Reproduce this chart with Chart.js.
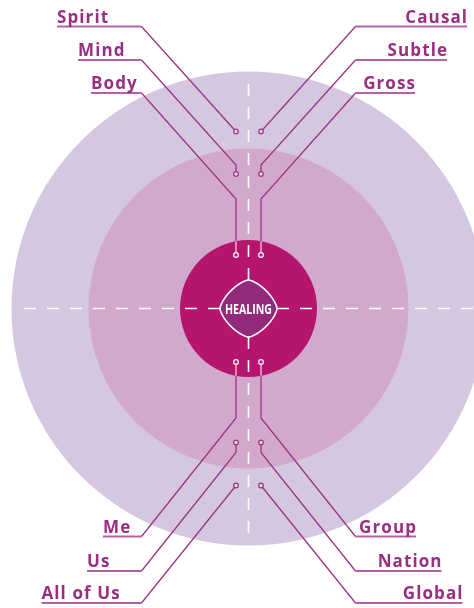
<!DOCTYPE html>
<html>
<head>
<meta charset="utf-8">
<title>Healing</title>
<script src="https://cdn.jsdelivr.net/npm/chart.js@4.4.0/dist/chart.umd.min.js"></script>
<style>
  html, body { margin: 0; padding: 0; background: #fff; }
  #chartBox { width: 474px; height: 608px; }
</style>
</head>
<body>
<div id="chartBox"><canvas id="healingChart" width="474" height="608"></canvas></div>
<script>
// Labels of the four corners
const topLeftNames = ['Spirit', 'Mind', 'Body'];
const topRightNames = ['Causal', 'Subtle', 'Gross'];
const bottomLeftNames = ['Me', 'Us', 'All of Us'];
const bottomRightNames = ['Group', 'Nation', 'Global'];
const centerText = 'HEALING';

// Rings (centre + radius, in axis units)
const ringCenter = [248.5, 308.5];
const ringRadii = [237, 160, 68.5];

// Rule lines under each label
const topRuleY = [26.5, 60, 93];
const bottomRuleY = [536.5, 571, 603];
const topLeftRuleStart = [57, 78, 91];
const topRightRuleEnd = [467, 447, 415];
const bottomLeftRuleStart = [103, 87, 41.5];
const bottomRightRuleEnd = [416, 441.5, 462.5];

// Where each leader bends and where its dot sits
const topBendY = [131.5, 165, 199];
const topDotY = [131.5, 174, 255];
const bottomBendY = [418, 452.5, 485.5];
const bottomDotY = [362, 442.5, 485.5];

// x of the knees and of the vertical stems
const kneeX = [141.5, 355.5];
const stemX = [236, 261];

// Dashed cross and the diamond
const crossEnds = { left: 17, right: 474, top: 78, bottom: 538 };
const diamondHalf = 28.5;

const ringColors = ['#d5c7e0', '#d2a9cd', '#b5156f'];
const lineColor = '#9c3486';
const ruleColor = '#b75ea9';
const textColor = '#9a2e81';
const innerLineColor = '#f2c6df';

document.addEventListener('DOMContentLoaded', function () {
  drawDiagram();
});

// where a stem meets the inner ring
function innerEdge(x, dir) {
  const r = ringRadii[2];
  const dx = x - ringCenter[0];
  return ringCenter[1] + dir * Math.sqrt(r * r - dx * dx);
}

function buildDatasets() {
  const sets = [];

  // rings, biggest first (drawn behind)
  ringRadii.forEach((r, i) => {
    sets.push({
      data: [{ x: ringCenter[0], y: ringCenter[1] }],
      pointRadius: c => c.chart.scales.x.getPixelForValue(r) - c.chart.scales.x.getPixelForValue(0),
      pointBackgroundColor: ringColors[i],
      pointBorderWidth: 0,
      pointHoverRadius: 0,
      order: 20 - i
    });
  });

  // dashed cross, each arm starts at the diamond corner
  const cx = ringCenter[0], cy = ringCenter[1];
  const arms = [
    [{ x: cx - diamondHalf, y: cy }, { x: crossEnds.left, y: cy }],
    [{ x: cx + diamondHalf, y: cy }, { x: crossEnds.right, y: cy }],
    [{ x: cx, y: cy - diamondHalf }, { x: cx, y: crossEnds.top }],
    [{ x: cx, y: cy + diamondHalf }, { x: cx, y: crossEnds.bottom }]
  ];
  arms.forEach(a => {
    sets.push({
      data: a, showLine: true, pointRadius: 0,
      borderColor: '#ffffff', borderWidth: 1.6, borderDash: [12, 11],
      order: 8
    });
  });

  const outerDots = [];
  const innerDots = [];

  function addLeader(side, ruleY, ruleX, bendY, dotY, isInner, dir) {
    const knee = kneeX[side];
    const stem = stemX[side];
    sets.push({
      data: [{ x: ruleX, y: ruleY }, { x: knee, y: ruleY }],
      showLine: true, pointRadius: 0, borderColor: ruleColor, borderWidth: 2,
      order: 4
    });
    const path = [{ x: knee, y: ruleY }, { x: stem, y: bendY }];
    if (isInner) path.push({ x: stem, y: innerEdge(stem, dir) });
    path.push({ x: stem, y: dotY });
    sets.push({
      data: path, showLine: true, pointRadius: 0, borderColor: lineColor, borderWidth: 1.3,
      segment: {
        borderColor: c => (isInner && c.p0DataIndex === 2) ? innerLineColor : undefined
      },
      order: 3
    });
    (isInner ? innerDots : outerDots).push({ x: stem, y: dotY });
  }

  for (let i = 0; i < 3; i++) {
    addLeader(0, topRuleY[i], topLeftRuleStart[i], topBendY[i], topDotY[i], i === 2, -1);
    addLeader(1, topRuleY[i], topRightRuleEnd[i], topBendY[i], topDotY[i], i === 2, -1);
    addLeader(0, bottomRuleY[i], bottomLeftRuleStart[i], bottomBendY[i], bottomDotY[i], i === 0, 1);
    addLeader(1, bottomRuleY[i], bottomRightRuleEnd[i], bottomBendY[i], bottomDotY[i], i === 0, 1);
  }

  sets.push({
    data: outerDots, pointRadius: 2.3, pointBorderWidth: 1.2,
    pointBorderColor: lineColor, pointBackgroundColor: '#e4d6ea', order: 1
  });
  sets.push({
    data: innerDots, pointRadius: 2.3, pointBorderWidth: 1.2,
    pointBorderColor: '#ffffff', pointBackgroundColor: ringColors[2], order: 1
  });

  return sets;
}

// diamond, centre word and the labels
const diagramPlugin = {
  id: 'diagram',
  afterDatasetsDraw(chart) {
    const ctx = chart.ctx;
    const xs = chart.scales.x, ys = chart.scales.y;
    const X = v => xs.getPixelForValue(v);
    const Y = v => ys.getPixelForValue(v);
    const cx = ringCenter[0], cy = ringCenter[1], h = diamondHalf;

    // diamond: a rounded rhombus (superellipse outline)
    const p = 1.45;
    ctx.save();
    ctx.beginPath();
    for (let k = 0; k <= 160; k++) {
      const t = (k / 160) * Math.PI * 2;
      const c = Math.cos(t), s = Math.sin(t);
      const px = cx + h * Math.sign(c) * Math.pow(Math.abs(c), 2 / p);
      const py = cy + h * Math.sign(s) * Math.pow(Math.abs(s), 2 / p);
      if (k === 0) ctx.moveTo(X(px), Y(py)); else ctx.lineTo(X(px), Y(py));
    }
    ctx.closePath();
    ctx.fillStyle = '#922a7c';
    ctx.fill();
    ctx.lineWidth = 1.6;
    ctx.strokeStyle = '#ffffff';
    ctx.stroke();

    ctx.fillStyle = '#ffffff';
    ctx.font = 'bold 13.5px "Open Sans"';
    ctx.textAlign = 'center';
    ctx.textBaseline = 'alphabetic';
    ctx.fillText(centerText, X(cx), Y(cy + 5), 47);

    // labels sit just above their rules
    ctx.font = 'bold 17px "Open Sans"';
    ctx.fillStyle = textColor;
    const spacing = 1.1;
    ctx.letterSpacing = spacing + 'px';
    for (let i = 0; i < 3; i++) {
      ctx.textAlign = 'left';
      ctx.fillText(topLeftNames[i], X(topLeftRuleStart[i]), Y(topRuleY[i] - 4));
      ctx.fillText(bottomLeftNames[i], X(bottomLeftRuleStart[i]), Y(bottomRuleY[i] - 4));
      ctx.textAlign = 'right';
      ctx.fillText(topRightNames[i], X(topRightRuleEnd[i]) + spacing, Y(topRuleY[i] - 4));
      ctx.fillText(bottomRightNames[i], X(bottomRightRuleEnd[i]) + spacing, Y(bottomRuleY[i] - 4));
    }
    ctx.restore();
  }
};

function drawDiagram() {
  const ctx = document.getElementById('healingChart').getContext('2d');
  new Chart(ctx, {
    type: 'scatter',
    data: { datasets: buildDatasets() },
    options: {
      responsive: false,
      animation: false,
      events: [],
      layout: { padding: 0, autoPadding: false },
      plugins: { legend: { display: false }, tooltip: { enabled: false } },
      scales: {
        x: { type: 'linear', min: 0, max: 474, display: false },
        y: { type: 'linear', min: 0, max: 608, reverse: true, display: false }
      }
    },
    plugins: [diagramPlugin]
  });
}
</script>
</body>
</html>
